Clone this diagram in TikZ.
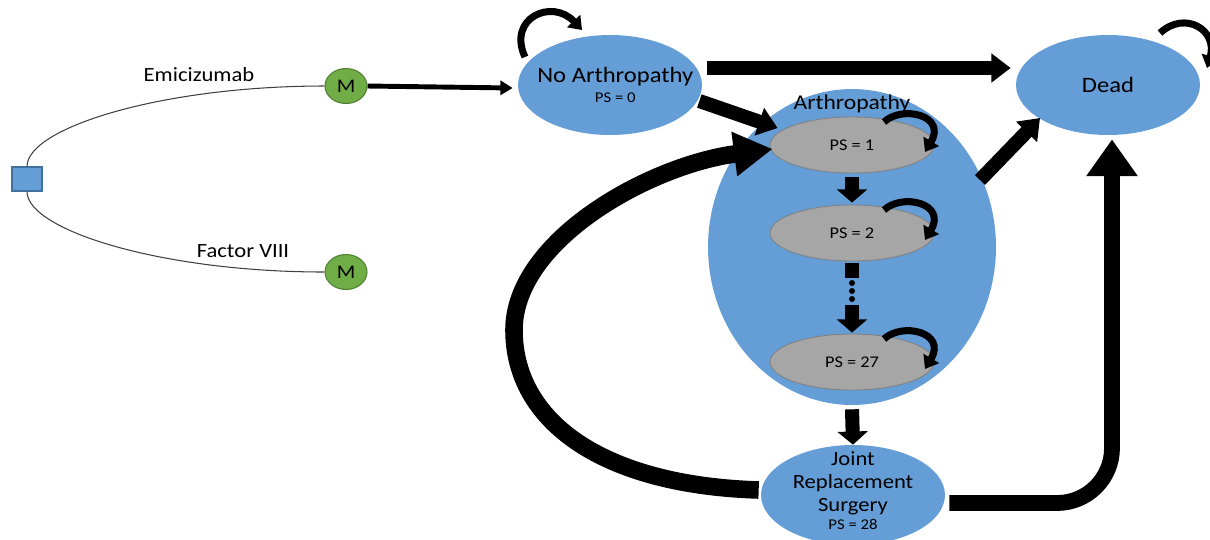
\documentclass[tikz,border=0pt]{standalone}
\usepackage{fontspec}
\setmainfont{Carlito}[FakeStretch=1.12]
\usetikzlibrary{arrows.meta, shapes.geometric, calc}
\definecolor{stateblue}{RGB}{101,157,214}
\definecolor{squareedge}{RGB}{65,113,156}
\definecolor{stategray}{RGB}{166,166,166}
\definecolor{grayedge}{RGB}{130,130,130}
\definecolor{mgreen}{RGB}{112,173,71}
\definecolor{mgreenedge}{RGB}{80,126,50}

\begin{document}
\begin{tikzpicture}[x=0.02cm,y=-0.02cm,
  state/.style={ellipse,fill=stateblue,inner sep=0pt,minimum width=3.68cm,minimum height=2cm},
  statetext/.style={align=center,font=\fontsize{12.5}{13}\selectfont},
  psstate/.style={ellipse,fill=stategray,draw=grayedge,line width=0.5pt,inner sep=0pt,minimum width=3.28cm,minimum height=1.12cm,font=\fontsize{9.3}{10}\selectfont},
  mnode/.style={ellipse,fill=mgreen,draw=mgreenedge,line width=0.6pt,inner sep=0pt,minimum width=0.84cm,minimum height=0.7cm,font=\fontsize{11}{12}\selectfont},
  armlabel/.style={font=\fontsize{11.5}{12}\selectfont},
  arm/.style={line width=0.6pt,black!75},
  bigarrow/.style={line width=8pt,-{Triangle[length=11pt,width=16pt]}},
  blockarrow/.style={line width=8pt,-{Triangle[length=7.5pt,width=17pt]}},
  selfarrow/.style={line width=4pt,-{Triangle[length=7pt,width=10pt]}}]
  \useasboundingbox (0,0) rectangle (1210,539);

  % Decision tree
  \node[rectangle,fill=stateblue,draw=squareedge,line width=0.6pt,minimum width=0.6cm,minimum height=0.48cm] (choice) at (27,179) {};
  \node[mnode] (emi) at (346,86) {M};
  \node[mnode] (fviii) at (346,272) {M};
  \node[armlabel] (emilbl) at (199,75) {Emicizumab};
  \node[armlabel] (fviiilbl) at (243,251) {Factor VIII};
  \draw[arm] (choice.north) .. controls (27,128) and (161,86) .. (emi.west);
  \draw[arm] (choice.south) .. controls (27,230) and (161,272) .. (fviii.west);

  % Markov states
  \node[state,minimum width=5.76cm,minimum height=6.32cm] (arth) at (852,247) {};
  \node[font=\fontsize{12}{13}\selectfont] (arthlbl) at (852,104) {Arthropathy};
  \node[psstate] (ps1) at (852,145) {PS = 1};
  \node[psstate] (ps2) at (852,233) {PS = 2};
  \node[psstate] (ps27) at (852,362) {PS = 27};
  \node[state,label={[statetext,xshift=3pt]center:{No Arthropathy\\[-2pt]{\fontsize{8.5}{9}\selectfont PS = 0}}}] (noarth) at (610,85) {};
  \node[state,label={[statetext]center:Dead}] (dead) at (1108,85) {};
  \node[state,label={[statetext,yshift=2.5pt,font=\fontsize{11.5}{13}\selectfont]center:{Joint\\Replacement\\Surgery\\[-3pt]{\fontsize{8.5}{9}\selectfont PS = 28}}}] (joint) at (853,495) {};

  % Transitions
  \draw[line width=2.8pt,-{Triangle[length=7pt,width=8pt]}] (emi.east) -- ($(noarth.west)+(-5,3)$);
  \draw[bigarrow] ($(noarth.east)+(5,-17)$) -- ($(dead.west)+(-5,-17)$);
  \draw[bigarrow] ($(noarth.east)+(-3,16)$) -- ($(ps1.west)+(8,-17)$);
  \draw[bigarrow] ($(arth.center)+(128,-67)$) -- ($(dead.center)+(-68,33)$);
  \draw[blockarrow] ($(ps1.south)+(0,4)$) -- ($(ps2.north)+(0,-2)$);
  \draw[line width=8pt] ($(ps2.south)+(0,2)$) -- ++(0,15);
  \foreach \dy in {283,291,299}
    \fill (852,\dy) circle (3);
  \draw[blockarrow] (852,305) -- ($(ps27.north)+(0,-1)$);
  \draw[blockarrow] ($(arth.south)+(0,4)$) -- (joint.north);
  \draw[line width=9pt,rounded corners=1.1cm,-{Triangle[length=21pt,width=28pt]}]
    ($(joint.east)+(4,8)$) -| ($(dead.south)+(4,4)$);
  \draw[line width=10pt,-{Triangle[length=22pt,width=24pt]}]
    ($(joint.west)+(-2,-5)$) .. controls (600,485) and (514,420) .. (514,330)
    .. controls (514,240) and (650,165) .. ($(ps1.west)+(3,4)$);

  % Self loops
  \draw[selfarrow] ($(noarth.center)+(-85,-28)$) .. controls (507,18) and (552,-2) .. ($(noarth.center)+(-28,-55)$);
  \draw[selfarrow] ($(dead.center)+(52,-52)$) .. controls (1185,10) and (1218,30) .. ($(dead.center)+(99,-17)$);
  \foreach \s in {ps1,ps2,ps27}
    \draw[selfarrow] ($(\s.center)+(32,-23)$) .. controls ($(\s.center)+(50,-40)$) and ($(\s.center)+(95,-30)$) .. ($(\s.center)+(73,7)$);
\end{tikzpicture}
\end{document}
